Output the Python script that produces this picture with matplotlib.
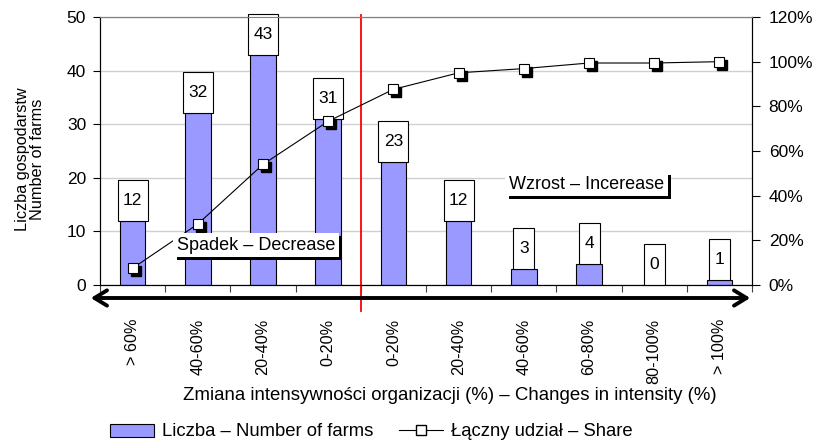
import matplotlib
matplotlib.use("Agg")
import matplotlib.pyplot as plt
import matplotlib.transforms as mtransforms
import matplotlib.patheffects as pe
from matplotlib.patches import Rectangle, FancyArrowPatch, Patch
from matplotlib.lines import Line2D

plt.rcParams['font.family'] = ['Liberation Sans', 'DejaVu Sans']

categories = ["> 60%", "40-60%", "20-40%", "0-20%", "0-20%",
              "20-40%", "40-60%", "60-80%", "80-100%", "> 100%"]
farms = [12, 32, 43, 31, 23, 12, 3, 4, 0, 1]
share = [7.5, 27.3, 54.0, 73.3, 87.6, 95.0, 96.9, 99.4, 99.4, 100.0]

W, H = 815, 446
fig = plt.figure(figsize=(W / 100, H / 100), dpi=100)
ax = fig.add_axes([100 / W, 1 - 285 / H, 652 / W, 268 / H])
ax2 = ax.twinx()

x = list(range(len(categories)))
ax.set_xlim(-0.5, 9.5)
ax.set_ylim(0, 50)
ax2.set_ylim(0, 120)

# grid
ax.set_yticks([0, 10, 20, 30, 40, 50])
ax.yaxis.grid(True, color='#d0d0d0', linewidth=1)
ax.set_axisbelow(True)

ax.bar(x, farms, width=0.39, color='#9999ff', edgecolor='black',
       linewidth=0.8, zorder=2)

# value label boxes
px_x = 652 / 10.0  # pixels per category
px_y = 268 / 50.0  # pixels per unit
box_h = 41 / px_y
for xi, v in zip(x, farms):
    label = str(v)
    bw = (30 if len(label) > 1 else 21) / px_x
    r = Rectangle((xi - bw / 2, v), bw, box_h, facecolor='white',
                  edgecolor='black', linewidth=0.8, zorder=3, clip_on=False)
    ax.add_patch(r)
    ax.text(xi, v + box_h / 2, label, ha='center', va='center',
            fontsize=12.5, zorder=4, clip_on=False)

# spines
ax.spines['top'].set_color('#808080')
ax2.spines['top'].set_color('#808080')

# x ticks at category boundaries
ax.set_xticks([i - 0.5 for i in range(11)])
ax.set_xticklabels([])
ax.tick_params(axis='x', direction='out', length=5, width=0.8, color='#404040')
ax.tick_params(axis='y', direction='out', length=5, labelsize=12.5, pad=5)
ax2.set_yticks(range(0, 121, 20))
ax2.set_yticklabels([f"{v}%" for v in range(0, 121, 20)])
ax2.tick_params(axis='y', direction='out', length=6, labelsize=12.5, pad=6)

# category labels
blend = mtransforms.blended_transform_factory(ax.transData, ax.transAxes)
for xi, c in zip(x, categories):
    ax.text(xi, -0.125, c, transform=blend,
            rotation=90, ha='center', va='top', fontsize=11.7)

# line with shadow markers
shadow_tr = mtransforms.offset_copy(ax2.transData, fig=fig, x=3, y=-3, units='dots')
ax2.plot(x, share, linestyle='none', marker='s', markersize=7.5,
         markerfacecolor='black', markeredgecolor='black', transform=shadow_tr, zorder=4)
ax2.plot(x, share, color='black', linewidth=0.8, marker='s', markersize=7.5,
         markerfacecolor='white', markeredgecolor='black', markeredgewidth=0.8, zorder=5)
ax2.set_zorder(ax.get_zorder() + 1)
ax2.patch.set_visible(False)

# red divider line
ax.plot([3.5, 3.5], [50.3, -4.8], color='red', linewidth=1.3, zorder=6, clip_on=False)

# double-headed arrow
arr = FancyArrowPatch((88, H - 298), (753, H - 298), transform=None,
                      arrowstyle='<->,head_length=9,head_width=5.5',
                      linewidth=2.8, color='black', mutation_scale=1)
fig.patches.append(arr)

# annotation boxes with shadow
def shadow_text(xp, yp, s):
    t = fig.text(xp, yp, s, fontsize=13, ha='left', va='center',
                 bbox=dict(boxstyle='square,pad=0.2', facecolor='white', edgecolor='none'),
                 zorder=9)
    t.get_bbox_patch().set_path_effects(
        [pe.SimplePatchShadow(offset=(2.3, -2.3), shadow_rgbFace='black', alpha=1.0),
         pe.Normal()])

shadow_text(177 / W, 1 - 245 / H, "Spadek – Decrease")
shadow_text(509 / W, 1 - 184 / H, "Wzrost – Incerease")

# axis labels
fig.text(30 / W, 1 - 159 / H, "Liczba gospodarstw\nNumber of farms", rotation=90,
         ha='center', va='center', fontsize=11.7, linespacing=1.05)
fig.text(450 / W, 1 - 396 / H,
         "Zmiana intensywności organizacji (%) – Changes in intensity (%)",
         ha='center', va='center', fontsize=13.4)

handles = [Patch(facecolor='#9999ff', edgecolor='black', linewidth=0.8),
           Line2D([], [], color='black', linewidth=0.8, marker='s', markersize=7,
                  markerfacecolor='white', markeredgecolor='black')]
fig.legend(handles, ["Liczba – Number of farms", "Łączny udział – Share"],
           loc='center', bbox_to_anchor=(371 / W, 1 - 432 / H), ncol=2,
           frameon=False, fontsize=13.3, handlelength=2.4, handletextpad=0.4,
           columnspacing=1.4)

fig.savefig("out.png", dpi=100)
